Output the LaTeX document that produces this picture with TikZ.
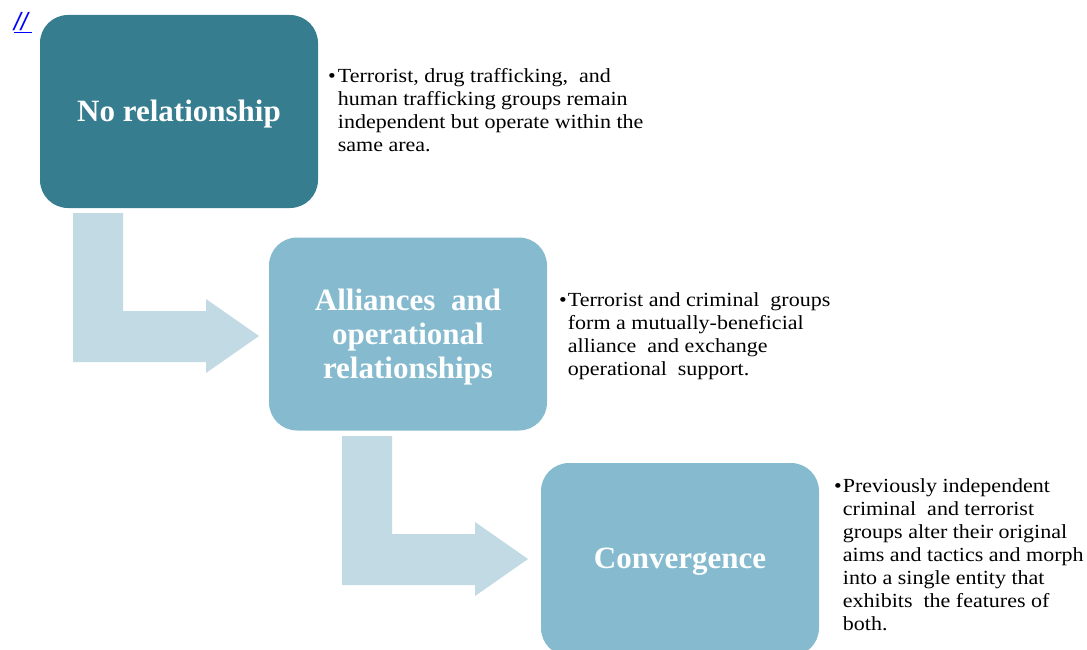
\documentclass[tikz,border=0pt]{standalone}
\usepackage{fontspec}
\setmainfont{Liberation Serif}
\newfontfamily\notefont[FakeStretch=1.1]{Liberation Serif}
\newfontfamily\linkfont{Liberation Sans}
\usepackage{xcolor}
\definecolor{deepTeal}{HTML}{357D8F}
\definecolor{mistBlue}{HTML}{86BBCF}
\definecolor{paleBlue}{HTML}{C1DAE3}
\definecolor{linkBlue}{HTML}{0000FF}

\tikzset{
  stage/.style={rounded corners=28pt, minimum width=278pt, minimum height=193pt},
  title/.style={text=white, font=\fontsize{31}{34}\selectfont\bfseries, align=center},
  note/.style={anchor=north west, inner sep=0pt,
    font=\notefont\fontsize{20}{23}\selectfont},
  bentarrow/.style={fill=paleBlue, draw=none}
}

\begin{document}
\begin{tikzpicture}[x=1pt,y=-1pt]
 \useasboundingbox (0,0) rectangle (1087,650);
 % Link mark
 \node[text=linkBlue, font=\linkfont\fontsize{25}{26}\selectfont\itshape] (lnk) at (23,23) {\underline{//\,}};
 % Bent arrows
 \fill[bentarrow] (73,213) -- (123,213) -- (123,311) -- (206,311) -- (206,299) -- (259,336)
   -- (206,373) -- (206,362) -- (73,362) -- cycle;
 \fill[bentarrow] (342,436) -- (392,436) -- (392,534) -- (475,534) -- (475,522) -- (528,559)
   -- (475,596) -- (475,585) -- (342,585) -- cycle;
 % Stages
 \node[stage, fill=deepTeal] (none) at (179,111.5) {};
 \node[stage, fill=mistBlue] (ally) at (408,334) {};
 \node[stage, fill=mistBlue] (conv) at (680,559.5) {};
 \node[title, yshift=-3pt] (noneLbl) at (none.center) {No relationship};
 \node[title, yshift=-3pt] (allyLbl) at (ally.center) {Alliances\ \ and\\operational\\relationships};
 \node[title, yshift=-2pt] (convLbl) at (conv.center) {Convergence};
 % Notes
 \node[note] (noneTxt) at (328,66) {\begin{tabular}{@{}l@{\hspace{2pt}}l@{}}
   \textbullet & Terrorist,\ drug trafficking,\ \ and\\
   & human trafficking groups remain\\
   & independent but operate within the\\
   & same area.
 \end{tabular}};
 \node[note] (allyTxt) at (559,290) {\begin{tabular}{@{}l@{\hspace{1pt}}l@{}}
   \textbullet & Terrorist and criminal\ \ groups\\
   & form a mutually-beneficial\\
   & alliance\ \ and exchange\\
   & operational\ \ support.
 \end{tabular}};
 \node[note] (convTxt) at (834,476) {\begin{tabular}{@{}l@{\hspace{1pt}}l@{}}
   \textbullet & Previously independent\\
   & criminal\ \ and terrorist\\
   & groups\ alter their\ original\\
   & aims and tactics and morph\\
   & into a single\ entity\ that\\
   & exhibits\ \ the features of\\
   & both.
 \end{tabular}};
\end{tikzpicture}
\end{document}
